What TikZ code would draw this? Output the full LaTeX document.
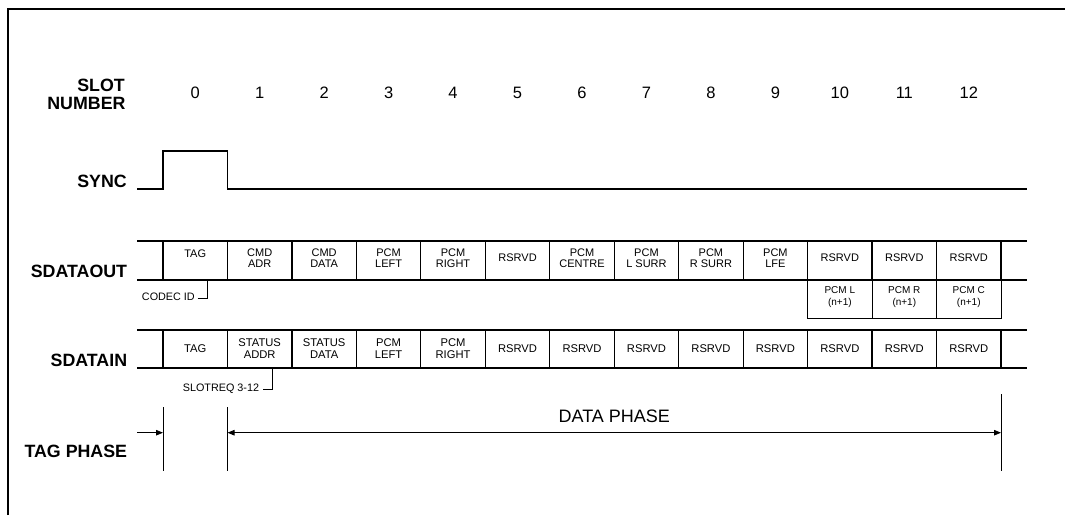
\documentclass[tikz,border=0pt]{standalone}
\usepackage{fontspec}
\setmainfont{Liberation Sans}
\usetikzlibrary{arrows.meta}
\begin{document}
\begin{tikzpicture}[x=1pt,y=-1pt,
  lbl/.style={font=\fontsize{17.8}{18}\selectfont\bfseries, anchor=base east, inner sep=0pt},
  num/.style={font=\fontsize{16.5}{16.5}\selectfont, anchor=base, inner sep=0pt},
  cellout/.style={font=\fontsize{11}{11}\selectfont, align=center, inner sep=0pt},
  cellin/.style={font=\fontsize{11.2}{12.6}\selectfont, align=center, inner sep=0pt},
  cellx/.style={font=\fontsize{10}{12.7}\selectfont, align=center, inner sep=0pt, anchor=north},
  note/.style={font=\fontsize{10.8}{11}\selectfont, anchor=base east, inner sep=0pt},
  big/.style={font=\fontsize{18}{18}\selectfont, anchor=base, inner sep=0pt},
  frame/.style={line width=1.3pt},
  wire/.style={line width=1.2pt},
  fine/.style={line width=0.9pt},
  arr/.style={-{Triangle[length=7pt,width=5.5pt]}, line width=0.9pt},
  darr/.style={{Triangle[length=7pt,width=5.5pt]}-{Triangle[length=7pt,width=5.5pt]}, line width=0.9pt},
]
\def\sx{64.4615}
\useasboundingbox (0,0) rectangle (1065,515);
% frame (top and left edges)
\draw[frame] (8,515) -- (8,9) -- (1065,9);

% row labels
\node[lbl] (lslot) at (125,91.5) {SLOT};
\node[lbl] (lnum) at (125.7,109) {NUMBER};
\node[lbl] (lsync) at (127,187.5) {SYNC};
\node[lbl] (lout) at (127.3,277.3) {SDATAOUT};
\node[lbl] (lin) at (127.3,366.7) {SDATAIN};
\node[lbl] (ltag) at (127.3,457.3) {TAG PHASE};

% slot numbers
\foreach \i in {0,...,12}
  \node[num] (n\i) at ({163+\sx*(\i+0.5)},98.3) {\i};

% SYNC waveform
\draw[wire] (137,189) -- (163,189) -- (163,151) -- (227.5,151) -- (227.5,189) -- (1027,189);

% SDATAOUT row
\draw[wire] (137,241) -- (1027,241) (137,280) -- (1027,280);
\foreach \k in {0,...,13}
  \draw[wire] ({163+\sx*\k},241) -- ({163+\sx*\k},280);
\node[cellout] (o0) at ({163+\sx*0.5},253.3) {TAG};
\foreach \i/\t in {1/{CMD\\ADR},2/{CMD\\DATA},3/{PCM\\LEFT},4/{PCM\\RIGHT},5/{RSRVD},
                   6/{PCM\\CENTRE},7/{PCM\\L SURR},8/{PCM\\R SURR},9/{PCM\\LFE},
                   10/{RSRVD},11/{RSRVD},12/{RSRVD}}
  \node[cellout] (o\i) at ({163+\sx*(\i+0.5)},258) {\t};

% extra slots below SDATAOUT
\draw[fine] ({163+\sx*10},280) rectangle ({163+\sx*13},318);
\draw[fine] ({163+\sx*11},280) -- ({163+\sx*11},318)
            ({163+\sx*12},280) -- ({163+\sx*12},318);
\node[cellx] (x10) at ({163+\sx*10.5},286) {PCM L\\(n+1)};
\node[cellx] (x11) at ({163+\sx*11.5},286) {PCM R\\(n+1)};
\node[cellx] (x12) at ({163+\sx*12.5},286) {PCM C\\(n+1)};

% CODEC ID bracket
\node[note] (codec) at (195,300.7) {CODEC ID};
\coordinate (cb) at (207.7,280);
\draw[fine] (codec.base east) ++(2.7,-2.4) -| (cb);

% SDATAIN row
\draw[wire] (137,330) -- (1027,330) (137,368) -- (1027,368);
\foreach \k in {0,...,13}
  \draw[wire] ({163+\sx*\k},330) -- ({163+\sx*\k},368);
\foreach \i/\t in {0/{TAG},1/{STATUS\\ADDR},2/{STATUS\\DATA},3/{PCM\\LEFT},4/{PCM\\RIGHT},
                   5/{RSRVD},6/{RSRVD},7/{RSRVD},8/{RSRVD},9/{RSRVD},
                   10/{RSRVD},11/{RSRVD},12/{RSRVD}}
  \node[cellin] (i\i) at ({163+\sx*(\i+0.5)},348.5) {\t};

% SLOTREQ bracket
\node[note] (slotreq) at (259.3,391) {SLOTREQ 3-12};
\coordinate (sb) at (272.7,368);
\draw[fine] (slotreq.base east) ++(4,-1.8) -| (sb);

% TAG PHASE / DATA PHASE
\coordinate (v0t) at (163,407);   \coordinate (v0b) at (163,471);
\coordinate (v1t) at (227.5,407); \coordinate (v1b) at (227.5,471);
\coordinate (v2t) at (1001,394);  \coordinate (v2b) at (1001,471);
\draw[fine] (v0t) -- (v0b) (v1t) -- (v1b) (v2t) -- (v2b);
\coordinate (a0) at (137,432.7);
\coordinate (a1) at (163,432.7);
\coordinate (a2) at (227.5,432.7);
\coordinate (a3) at (1001,432.7);
\draw[arr] (a0) -- (a1);
\draw[darr] (a2) -- (a3);
\node[big] (dp) at (614.3,422.7) {DATA PHASE};
\end{tikzpicture}
\end{document}
